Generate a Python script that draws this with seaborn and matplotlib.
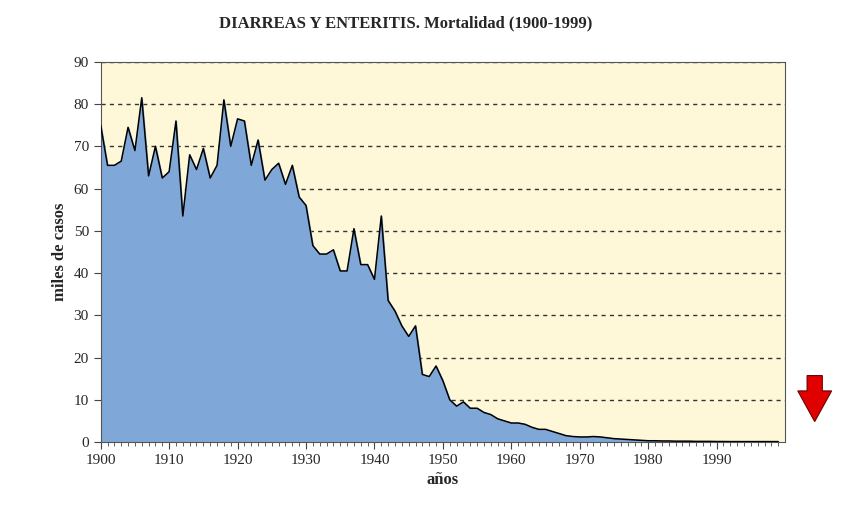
import matplotlib
matplotlib.use("Agg")
import matplotlib.pyplot as plt
import seaborn as sns
import pandas as pd
from matplotlib.patches import FancyArrow

years = list(range(1900, 2000))
deaths = [75, 65.5, 65.5, 66.5, 74.5, 69, 81.5, 63, 70, 62.5,
          64, 76, 53.5, 68, 64.5, 69.5, 62.5, 65.5, 81, 70,
          76.5, 76, 65.5, 71.5, 62, 64.5, 66, 61, 65.5, 58,
          56, 46.5, 44.5, 44.5, 45.5, 40.5, 40.5, 50.5, 42, 42,
          38.5, 53.5, 33.5, 31, 27.5, 25, 27.5, 16, 15.5, 18,
          14.5, 10, 8.5, 9.5, 8, 8, 7, 6.5, 5.5, 5,
          4.5, 4.5, 4.2, 3.5, 3, 3, 2.5, 2, 1.5, 1.3,
          1.2, 1.2, 1.3, 1.2, 1.0, 0.8, 0.7, 0.6, 0.5, 0.4,
          0.3, 0.3, 0.25, 0.25, 0.2, 0.2, 0.2, 0.15, 0.15, 0.15,
          0.12, 0.12, 0.1, 0.1, 0.1, 0.1, 0.1, 0.1, 0.1, 0.1]
xticks = list(range(1900, 2000, 10))
yticks = list(range(0, 100, 10))

df = pd.DataFrame({"year": years, "deaths": deaths})
sns.set_style("ticks")
plt.rcParams['font.family'] = ['Liberation Serif', 'DejaVu Serif']

fig = plt.figure(figsize=(8.46, 5.11), dpi=100)
ax = fig.add_axes([0.119, 0.135, 0.809, 0.744])
ax.set_facecolor("#fff8d8")
ax.fill_between(df.year, df.deaths, color="#7fa8d8", zorder=2)
sns.lineplot(data=df, x="year", y="deaths", color="black", lw=1.1, ax=ax, zorder=3)
for y in yticks[1:]:
    ax.axhline(y, color="#333333", ls=(0, (3, 3)), lw=1, zorder=1)
ax.set_xlim(1900, 2000)
ax.set_ylim(0, 90)
ax.set_xticks(xticks)
ax.set_xticks(range(1900, 2000), minor=True)
ax.set_yticks(yticks)
ax.tick_params(labelsize=11, length=5, color="#444")
ax.tick_params(which="minor", length=3, color="#444")
for s in ax.spines.values():
    s.set_color("#555")
ax.set_xlabel("años", fontsize=12, fontweight="bold")
ax.set_ylabel("miles de casos", fontsize=12, fontweight="bold")
fig.text(0.48, 0.955, "DIARREAS Y ENTERITIS. Mortalidad (1900-1999)",
         ha="center", va="center", fontsize=12, fontweight="bold")
fig.patches.append(FancyArrow(0.963, 0.265, 0, -0.09, width=0.018, head_width=0.04,
                              head_length=0.06, length_includes_head=True,
                              transform=fig.transFigure, color="#e00000", ec="#700000", lw=0.8))
fig.savefig("out.png", dpi=100)
